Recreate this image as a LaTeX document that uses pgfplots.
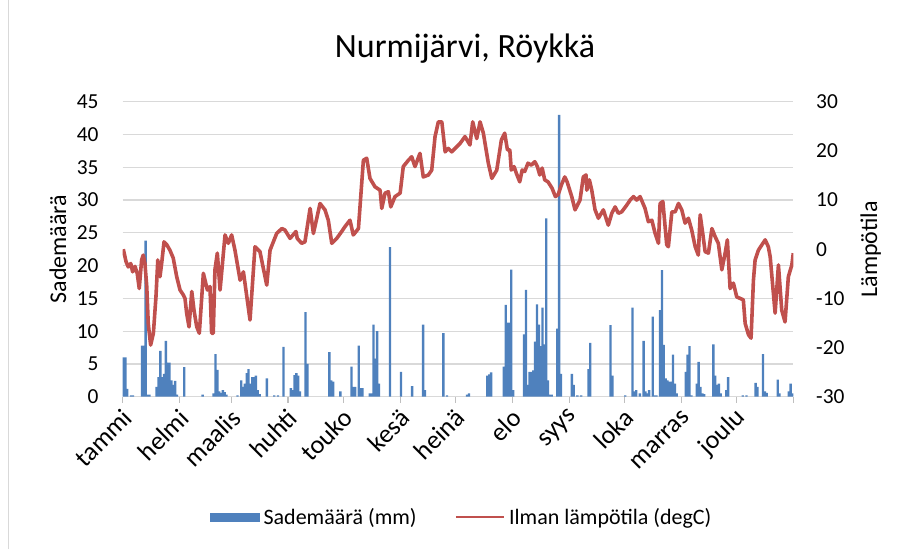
\documentclass[border=0pt]{standalone}
\usepackage{pgfplots}
\pgfplotsset{compat=1.18}
\usepackage{fontspec}
\setmainfont{Carlito}
\definecolor{barblue}{RGB}{79,129,189}
\definecolor{tempred}{RGB}{192,80,77}
\definecolor{gridgray}{RGB}{217,217,217}
\definecolor{tickgray}{RGB}{191,191,191}
\newcommand{\tickfont}{\fontsize{21.4}{24}\selectfont}
\begin{document}
\begin{tikzpicture}
\useasboundingbox (0pt,0pt) rectangle (901pt,549pt);
\draw[gridgray, line width=1.2pt] (8.3pt,0pt) -- (8.3pt,549pt);
\begin{axis}[
  at={(122.7pt,152.3pt)}, anchor=south west,
  scale only axis, width=670.6pt, height=295pt,
  xmin=0, xmax=365, ymin=0, ymax=45,
  ytick={0,5,...,45},
  xtick={0,31,59,90,120,151,181,212,243,273,304,334,365},
  xticklabels={tammi,helmi,maalis,huhti,touko,kesä,heinä,elo,syys,loka,marras,joulu,{}},
  axis lines*=left,
  x axis line style={draw=gridgray, line width=1.2pt},
  y axis line style={draw=none},
  ytick style={draw=none},
  xtick style={draw=tickgray, line width=1.2pt},
  tick align=outside, major tick length=6pt,
  ymajorgrids, grid style={draw=gridgray, line width=1.2pt},
  /pgf/number format/assume math mode=true,
  tick label style={font=\tickfont},
  yticklabel style={anchor=east, inner sep=0pt, xshift=-18pt},
  xticklabel style={font=\fontsize{26}{30}\selectfont, xshift=5pt, yshift=-11pt, rotate=45, anchor=east, inner sep=0pt},
  every axis y label/.style={at={(axis description cs:-0.0965,0.5)}, anchor=center, rotate=90},
  ylabel={Sademäärä}, label style={font=\fontsize{24}{28}\selectfont},
  title={Nurmijärvi, Röykkä},
  title style={at={(axis description cs:0.5104,1.1584)}, anchor=center, font=\fontsize{34}{40}\selectfont},
  ybar, bar width=1.3,
]
\addplot[fill=barblue, draw=none] coordinates {
(0.5,6.0)(1.5,6.0)(2.5,1.2)(4.5,0.2)(5.5,0.2)(10.5,7.8)(11.5,7.8)(12.5,23.8)(13.5,0.3)(14.5,0.3)
(18.5,1.5)(19.5,3.0)(20.5,7.0)(21.5,3.0)(22.5,3.5)(23.5,8.5)(24.5,5.2)(25.5,5.2)(26.5,2.5)(27.5,1.8)
(28.5,2.4)(29.5,0.3)(33.5,4.5)(43.5,0.3)(49.5,0.5)(50.5,6.5)(51.5,4.1)(52.5,0.8)(53.5,0.6)(54.5,1.0)
(55.5,0.7)(56.5,0.3)(62.5,0.2)(64.5,2.5)(65.5,1.5)(66.5,2.0)(67.5,3.6)(68.5,4.2)(69.5,2.0)(70.5,3.0)
(71.5,3.0)(72.5,3.2)(73.5,1.0)(74.5,0.4)(78.5,2.8)(82.5,0.2)(84.5,0.2)(87.5,7.6)(91.5,1.3)(92.5,1.0)
(93.5,3.3)(94.5,3.6)(95.5,3.2)(96.5,0.8)(99.5,12.9)(100.5,5.0)(112.5,6.8)(113.5,2.5)(114.5,2.3)(118.5,0.8)
(124.5,4.6)(125.5,1.5)(126.5,1.5)(128.5,7.8)(129.5,1.3)(130.5,1.3)(134.5,0.5)(135.5,0.5)(136.5,11.0)(137.5,5.8)
(138.5,10.0)(139.5,2.0)(145.5,22.8)(151.5,3.8)(157.5,1.6)(163.5,11.0)(164.5,1.0)(174.5,9.7)(176.5,0.2)(187.5,0.3)
(188.5,0.5)(198.5,3.2)(199.5,3.4)(200.5,3.7)(207.5,4.6)(208.5,14.0)(209.5,11.3)(210.5,11.3)(211.5,19.4)(212.5,1.0)
(218.5,9.5)(219.5,16.3)(220.5,1.8)(221.5,3.8)(222.5,3.8)(223.5,4.0)(224.5,8.4)(225.5,14.1)(226.5,11.0)(227.5,7.7)
(228.5,13.6)(229.5,8.0)(230.5,27.2)(231.5,2.5)(232.5,0.3)(233.5,0.3)(236.5,10.4)(237.5,43.0)(238.5,3.5)(244.5,3.5)
(245.5,1.8)(247.5,0.2)(249.5,0.2)(253.5,4.2)(254.5,8.2)(265.5,10.9)(266.5,3.2)(273.5,0.2)(277.5,13.6)(278.5,0.8)
(279.5,1.0)(281.5,0.5)(283.5,8.5)(284.5,0.8)(285.5,0.5)(286.5,1.0)(288.5,12.2)(289.5,0.2)(290.5,0.2)(292.5,13.2)
(293.5,19.3)(294.5,7.9)(295.5,2.8)(296.5,2.5)(297.5,2.3)(298.5,2.3)(299.5,6.4)(300.5,2.0)(301.5,0.5)(306.5,3.8)
(307.5,6.4)(308.5,7.7)(309.5,0.2)(312.5,2.0)(313.5,5.3)(314.5,1.5)(315.5,0.5)(316.5,0.4)(321.5,8.0)(322.5,3.2)
(323.5,1.8)(324.5,2.0)(325.5,0.5)(328.5,1.0)(329.5,3.0)(337.5,0.2)(339.5,0.2)(344.5,2.1)(345.5,1.5)(348.5,6.5)
(349.5,0.8)(350.5,0.6)(356.5,2.6)(357.5,0.5)(362.5,0.8)(363.5,2.0)(364.5,0.5)
};
\end{axis}
\begin{axis}[
  at={(122.7pt,152.3pt)}, anchor=south west,
  scale only axis, width=670.6pt, height=295pt,
  xmin=0, xmax=365, ymin=-30, ymax=30,
  ytick={-30,-20,...,30},
  axis x line=none,
  axis y line*=right,
  y axis line style={draw=none},
  ytick style={draw=none},
  /pgf/number format/assume math mode=true,
  tick label style={font=\tickfont},
  yticklabel style={anchor=west, inner sep=0pt, xshift=22.7pt},
  every axis y label/.style={at={(axis description cs:1.1154,0.5)}, anchor=center, rotate=90},
  ylabel={Lämpötila}, label style={font=\fontsize{24}{28}\selectfont},
  legend style={at={(axis description cs:0.5042,-0.408)}, anchor=center, draw=none, fill=none,
    font=\fontsize{22}{25}\selectfont, legend columns=2, inner sep=0pt,
    nodes={inner sep=0pt},
    /tikz/every odd column/.append style={column sep=4pt},
    /tikz/every even column/.append style={column sep=38pt}},
  legend cell align=left,
]
\addplot[tempred, line width=3.6pt, line join=round, forget plot] coordinates {
(0.33,0.0)(1.8,-2.5)(3.0,-3.6)(4.4,-2.9)(5.4,-4.6)(6.7,-3.5)(7.9,-4.9)(9.0,-8.0)(10.3,-2.2)(11.2,-1.2)
(12.1,-2.9)(13.1,-7.6)(13.9,-15.1)(15.2,-19.5)(16.7,-17.1)(18.1,-9.7)(19.1,-2.2)(20.3,-5.6)(21.2,-2.9)(22.5,1.5)
(24.0,0.9)(25.7,-0.2)(27.5,-1.8)(29.4,-5.6)(31.2,-8.3)(33.0,-9.3)(33.9,-10.0)(34.8,-13.0)(36.1,-15.8)(37.6,-8.6)
(38.8,-12.4)(40.3,-15.8)(41.7,-17.1)(43.9,-4.9)(46.1,-8.3)(47.5,-7.6)(48.4,-17.1)(49.3,-17.1)(50.2,-4.2)(51.5,-0.8)
(53.0,-8.3)(55.7,2.9)(57.5,1.2)(59.3,2.9)(61.1,-0.2)(63.9,-6.3)(65.7,-4.6)(69.3,-14.4)(72.0,0.5)(74.7,-0.5)
(78.4,-7.3)(80.2,-0.2)(83.8,3.2)(86.6,4.2)(88.3,3.9)(91.1,2.2)(94.3,3.6)(95.0,2.2)(97.4,1.2)(99.2,1.5)
(102.0,8.3)(103.8,3.2)(107.4,9.3)(110.1,8.0)(111.9,5.9)(113.8,1.2)(116.5,2.2)(119.2,3.6)(121.0,4.6)(123.7,5.9)
(125.5,2.9)(128.3,4.2)(131.0,18.1)(132.8,18.5)(134.6,14.4)(137.3,12.7)(140.1,12.0)(141.0,8.3)(142.8,11.4)(144.6,11.7)
(145.9,8.6)(148.2,10.7)(151.0,11.4)(152.7,16.8)(155.5,18.1)(157.3,18.8)(159.1,16.8)(161.8,19.5)(163.6,14.7)(166.4,15.1)
(168.2,16.1)(170.0,22.9)(171.8,25.9)(173.7,25.9)(175.5,19.8)(177.2,20.5)(179.1,19.8)(180.9,20.5)(183.6,21.5)(186.3,22.9)
(189.0,21.2)(190.5,25.9)(192.7,22.5)(194.5,25.9)(196.3,23.6)(199.0,17.5)(200.9,14.4)(203.6,16.1)(206.1,22.2)(207.9,23.6)
(209.4,20.2)(210.7,20.2)(211.5,16.1)(213.0,16.8)(214.3,15.4)(216.1,13.7)(217.4,16.1)(218.8,15.8)(220.6,17.5)(222.4,17.1)
(224.3,17.8)(225.7,16.8)(227.0,15.1)(228.3,16.5)(229.7,14.1)(231.5,13.7)(233.7,12.4)(235.5,10.7)(237.0,11.1)(238.8,13.1)
(240.6,14.7)(241.9,13.7)(244.4,10.7)(246.2,8.0)(248.9,10.0)(250.7,14.7)(252.2,15.1)(252.6,12.0)(254.0,14.1)(255.3,12.0)
(257.1,8.0)(258.9,6.3)(261.6,8.0)(264.3,4.9)(266.2,7.3)(268.0,8.6)(269.8,7.3)(271.6,7.6)(274.4,9.0)(276.2,10.0)
(278.0,10.7)(279.8,10.0)(281.6,10.7)(284.3,8.3)(286.1,5.6)(288.0,5.9)(289.8,3.2)(291.6,1.2)(292.5,9.3)(294.0,9.7)
(296.1,0.9)(297.0,0.5)(298.9,7.6)(300.7,7.6)(302.5,9.3)(304.3,8.0)(306.1,5.3)(307.9,6.3)(309.7,3.9)(311.6,0.5)
(313.3,-1.2)(314.3,7.0)(315.7,3.2)(317.0,-0.5)(318.8,-0.8)(320.7,4.2)(322.5,2.5)(324.2,1.2)(326.1,-4.2)(327.9,-0.8)
(329.1,1.9)(330.6,-8.0)(332.4,-6.9)(334.2,-9.7)(336.0,-10.0)(337.8,-10.3)(338.8,-15.1)(340.6,-17.4)(342.0,-18.1)(343.3,-6.3)
(344.2,-2.2)(346.0,-0.2)(347.9,0.9)(349.7,1.9)(351.4,0.5)(352.4,-1.5)(355.1,-13.0)(356.9,-3.2)(358.7,-12.4)(360.5,-14.8)
(362.3,-5.6)(364.2,-3.2)(365.0,-0.8)
};
\addlegendimage{legend image code/.code={\fill[barblue] (0pt,-4pt) rectangle (49pt,4pt);}}
\addlegendentry{Sademäärä (mm)}
\addlegendimage{legend image code/.code={\draw[tempred, line width=2.5pt] (0pt,0pt) -- (48pt,0pt);}}
\addlegendentry{Ilman lämpötila (degC)}
\end{axis}
\end{tikzpicture}
\end{document}
